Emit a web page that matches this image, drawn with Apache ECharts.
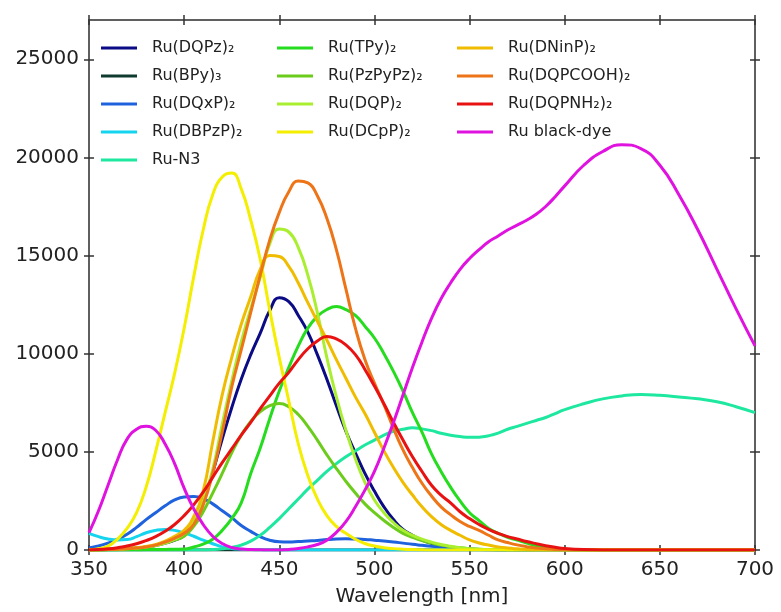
<!DOCTYPE html>
<html>
<head>
<meta charset="utf-8">
<script src="https://cdn.jsdelivr.net/npm/echarts@6/dist/echarts.min.js"></script>
<style>
  html, body { margin: 0; padding: 0; background: #fff; }
  #chart { width: 781px; height: 612px; }
</style>
</head>
<body>
<div id="chart"></div>
<script>
// wavelength grid (nm): 5 nm steps up to 600, then 10 nm
const wl = [
  350, 355, 360, 365, 370, 375, 380, 385, 390, 395,
  400, 405, 410, 415, 420, 425, 430, 435, 440, 445,
  450, 455, 460, 465, 470, 475, 480, 485, 490, 495,
  500, 505, 510, 515, 520, 525, 530, 535, 540, 545,
  550, 555, 560, 565, 570, 575, 580, 585, 590, 595,
  600, 610, 620, 630, 640, 650, 660, 670, 680, 690, 700
];

const xTicks = [350, 400, 450, 500, 550, 600, 650, 700];
const yTicks = [0, 5000, 10000, 15000, 20000, 25000];

// absorbance spectra
const dqpz = [
  0, 5, 20, 35, 60, 100, 150, 230, 350, 500,
  750, 1350, 2450, 3950, 5650, 7250, 8700, 9950, 11050, 12200,
  12850, 12650, 11950, 11100, 9950, 8700, 7350, 6050, 4950, 3900,
  3000, 2200, 1550, 1050, 750, 500, 330, 210, 130, 80,
  40, 20, 10, 5, 0, 0, 0, 0, 0, 0,
  0, 0, 0, 0, 0, 0, 0, 0, 0, 0, 0
];
const bpy3 = [
  0, 0, 0, 0, 0, 0, 0, 0, 0, 0,
  0, 0, 0, 0, 0, 0, 0, 0, 0, 0,
  0, 0, 0, 0, 0, 0, 0, 0, 0, 0,
  0, 0, 0, 0, 0, 0, 0, 0, 0, 0,
  0, 0, 0, 0, 0, 0, 0, 0, 0, 0,
  0, 0, 0, 0, 0, 0, 0, 0, 0, 0, 0
];
const dqxp = [
  100, 200, 350, 550, 800, 1150, 1550, 1900, 2250, 2550,
  2700, 2720, 2620, 2350, 2000, 1650, 1250, 950, 680, 500,
  420, 410, 430, 460, 490, 530, 560, 570, 560, 540,
  500, 460, 410, 350, 290, 240, 190, 150, 110, 80,
  50, 30, 20, 15, 10, 5, 0, 0, 0, 0,
  0, 0, 0, 0, 0, 0, 0, 0, 0, 0, 0
];
const dbpzp = [
  850, 680, 560, 510, 530, 680, 880, 1000, 1050, 1000,
  870, 700, 500, 320, 160, 80, 40, 20, 10, 0,
  0, 0, 0, 0, 0, 0, 0, 0, 0, 0,
  0, 0, 0, 0, 0, 0, 0, 0, 0, 0,
  0, 0, 0, 0, 0, 0, 0, 0, 0, 0,
  0, 0, 0, 0, 0, 0, 0, 0, 0, 0, 0
];
const n3 = [
  0, 0, 0, 0, 0, 0, 0, 0, 0, 0,
  0, 0, 0, 20, 60, 130, 250, 450, 750, 1150,
  1600, 2100, 2600, 3100, 3550, 4000, 4400, 4750, 5050, 5350,
  5600, 5850, 6050, 6150, 6230, 6170, 6080, 5950, 5850, 5780,
  5740, 5750, 5820, 5950, 6150, 6300, 6450, 6600, 6750, 6950,
  7150, 7450, 7700, 7850, 7920, 7880, 7800, 7700, 7550, 7300, 7000
];
const tpy = [
  0, 0, 0, 5, 10, 15, 20, 25, 30, 40,
  50, 150, 300, 550, 1000, 1600, 2400, 3900, 5200, 6700,
  8100, 9300, 10400, 11300, 11900, 12250, 12400, 12250, 11950, 11400,
  10800, 10000, 9100, 8100, 7000, 6000, 4900, 4000, 3200, 2500,
  1900, 1500, 1100, 850, 650, 500, 350, 220, 130, 60,
  20, 0, 0, 0, 0, 0, 0, 0, 0, 0, 0
];
const pzpypz = [
  0, 5, 20, 40, 60, 100, 150, 230, 350, 500,
  700, 1200, 1950, 2900, 3900, 4950, 5850, 6550, 7050, 7350,
  7460, 7300, 6900, 6300, 5600, 4850, 4150, 3500, 2900, 2350,
  1900, 1500, 1150, 850, 650, 480, 350, 250, 170, 110,
  70, 40, 20, 10, 5, 0, 0, 0, 0, 0,
  0, 0, 0, 0, 0, 0, 0, 0, 0, 0, 0
];
const dqp = [
  0, 5, 20, 35, 60, 100, 150, 230, 350, 550,
  850, 1400, 2500, 4100, 6400, 8600, 10600, 12300, 13900, 15600,
  16350, 16200, 15400, 14000, 12100, 9800, 7800, 6100, 4650, 3450,
  2550, 1900, 1400, 1000, 750, 550, 400, 280, 190, 120,
  70, 40, 20, 10, 5, 0, 0, 0, 0, 0,
  0, 0, 0, 0, 0, 0, 0, 0, 0, 0, 0
];
const dcpp = [
  0, 60, 200, 550, 1100, 1900, 3200, 5000, 7000, 9000,
  11300, 13900, 16300, 18100, 19000, 19200, 18400, 16800, 14800, 12200,
  9800, 7600, 5400, 3800, 2600, 1750, 1200, 850, 550, 330,
  200, 120, 70, 40, 20, 10, 0, 0, 0, 0,
  0, 0, 0, 0, 0, 0, 0, 0, 0, 0,
  0, 0, 0, 0, 0, 0, 0, 0, 0, 0, 0
];
const dninp = [
  0, 10, 30, 50, 80, 120, 180, 280, 450, 700,
  1000, 1700, 3000, 5500, 7900, 9800, 11500, 12900, 14300, 15000,
  14950, 14450, 13600, 12600, 11650, 10700, 9700, 8750, 7800, 6950,
  6000, 5050, 4200, 3450, 2800, 2200, 1700, 1300, 1000, 750,
  520, 360, 250, 160, 100, 60, 30, 15, 5, 0,
  0, 0, 0, 0, 0, 0, 0, 0, 0, 0, 0
];
const dqpcooh = [
  0, 5, 20, 40, 60, 100, 150, 250, 400, 600,
  850, 1300, 2300, 3900, 6000, 8300, 10200, 12100, 14000, 15800,
  17200, 18250, 18800, 18700, 18050, 16900, 15300, 13300, 11300, 9700,
  8500, 7400, 6200, 5100, 4200, 3400, 2750, 2200, 1800, 1450,
  1200, 1000, 750, 520, 380, 260, 170, 100, 60, 30,
  10, 0, 0, 0, 0, 0, 0, 0, 0, 0, 0
];
const dqpnh2 = [
  0, 20, 60, 120, 200, 320, 480, 680, 950, 1300,
  1750, 2300, 2950, 3700, 4450, 5150, 5850, 6500, 7200, 7850,
  8500, 9050, 9700, 10250, 10650, 10880, 10750, 10450, 9950, 9200,
  8350, 7450, 6500, 5600, 4750, 4000, 3300, 2800, 2400, 1950,
  1600, 1300, 1050, 850, 680, 560, 430, 320, 220, 140,
  80, 20, 0, 0, 0, 0, 0, 0, 0, 0, 0
];
const blackDye = [
  880, 2000, 3300, 4600, 5650, 6150, 6300, 6100, 5400, 4400,
  3150, 2100, 1300, 700, 330, 130, 50, 20, 10, 0,
  0, 30, 80, 160, 280, 500, 900, 1450, 2200, 3050,
  4000, 5200, 6500, 7900, 9300, 10600, 11800, 12800, 13600, 14300,
  14850, 15300, 15700, 16000, 16300, 16550, 16800, 17100, 17500, 18000,
  18550, 19600, 20300, 20650, 20450, 19600, 18100, 16300, 14300, 12300, 10400
];

const names = [
  'Ru(DQPz)₂', 'Ru(BPy)₃', 'Ru(DQxP)₂', 'Ru(DBPzP)₂', 'Ru-N3',
  'Ru(TPy)₂', 'Ru(PzPyPz)₂', 'Ru(DQP)₂', 'Ru(DCpP)₂',
  'Ru(DNinP)₂', 'Ru(DQPCOOH)₂', 'Ru(DQPNH₂)₂', 'Ru black-dye'
];
const colors = [
  '#0b0b86', '#0f3b2f', '#1f62dd', '#14d4ee', '#1ee8a0',
  '#26dc1e', '#6ccc1c', '#aaee30', '#f4ee00',
  '#f0bc00', '#ee7418', '#e81212', '#e012e0'
];
const values = [dqpz, bpy3, dqxp, dbpzp, n3, tpy, pzpypz, dqp, dcpp, dninp, dqpcooh, dqpnh2, blackDye];

const font = 'DejaVu Sans';
const axisColor = '#555';

const series = values.map((vals, i) => ({
  name: names[i],
  type: 'line',
  smooth: 0.5,
  symbol: 'none',
  clip: true,
  color: colors[i],
  lineStyle: { width: 3, color: colors[i] },
  data: wl.map((w, j) => [w, vals[j]])
}));

function legendCol(data, left) {
  return {
    data: data,
    orient: 'vertical',
    left: left,
    top: 35,
    icon: 'rect',
    itemWidth: 36,
    itemHeight: 3,
    itemGap: 12,
    textStyle: { fontFamily: font, fontSize: 16, color: '#222', padding: [0, 0, 0, 10] }
  };
}

function xAx(position, inside, labels) {
  return {
    type: 'value', min: 350, max: 700, interval: 50, position: position,
    axisLine: { show: true, onZero: false, lineStyle: { color: axisColor, width: 1.5 } },
    axisTick: { show: true, inside: inside, length: 5, customValues: xTicks, lineStyle: { color: '#333', width: 1.5 } },
    axisLabel: labels ? { show: true, customValues: xTicks, formatter: v => String(v), fontFamily: font, fontSize: 20, color: '#222', margin: 10 } : { show: false },
    splitLine: { show: false },
    name: labels ? 'Wavelength [nm]' : '',
    nameLocation: 'middle',
    nameGap: 37,
    nameTextStyle: { fontFamily: font, fontSize: 20, color: '#222' }
  };
}

function yAx(position, inside, labels) {
  return {
    type: 'value', min: 0, max: 27000, interval: 5000, position: position,
    axisLine: { show: true, onZero: false, lineStyle: { color: axisColor, width: 1.5 } },
    axisTick: { show: true, inside: inside, length: 5, customValues: yTicks, lineStyle: { color: '#333', width: 1.5 } },
    axisLabel: labels ? { show: true, customValues: yTicks, formatter: v => String(v), fontFamily: font, fontSize: 20, color: '#222', margin: 10 } : { show: false },
    splitLine: { show: false }
  };
}

const chart = echarts.init(document.getElementById('chart'), null, { renderer: 'canvas' });
chart.setOption({
  animation: false,
  backgroundColor: '#fff',
  grid: { left: 89, right: 26, top: 20, bottom: 61, containLabel: false },
  legend: [
    legendCol(names.slice(0, 5), 96),
    legendCol(names.slice(5, 9), 272),
    legendCol(names.slice(9, 13), 452)
  ],
  xAxis: [xAx('bottom', false, true), xAx('bottom', true, false), xAx('top', false, false), xAx('top', true, false)],
  yAxis: [yAx('left', false, true), yAx('left', true, false), yAx('right', false, false), yAx('right', true, false)],
  series: series
});
</script>
</body>
</html>
